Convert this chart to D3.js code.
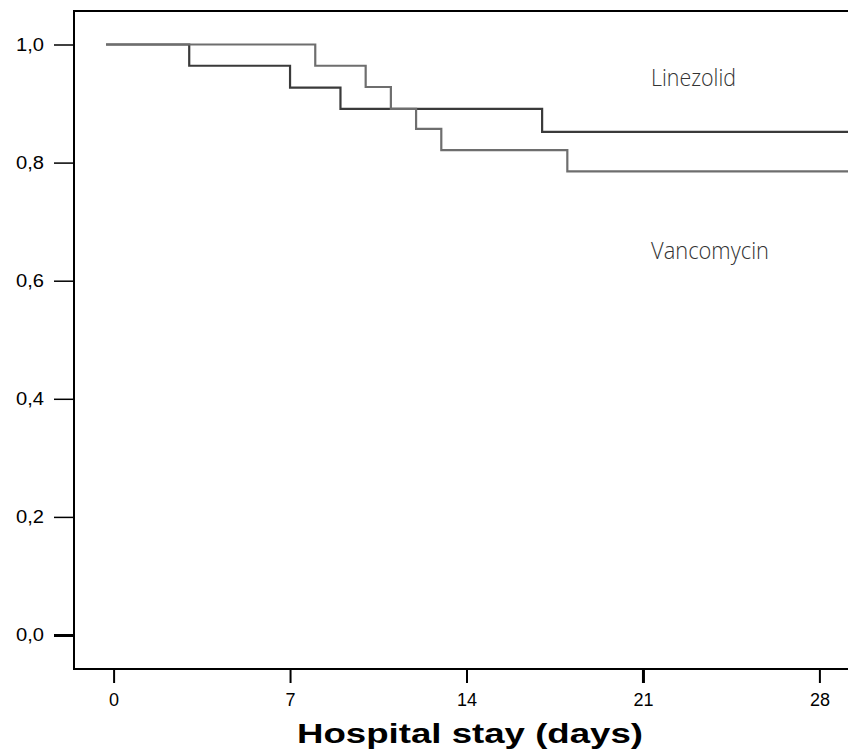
<!DOCTYPE html>
<html>
<head>
<meta charset="utf-8">
<script src="https://cdn.jsdelivr.net/npm/d3@7"></script>
<style>
  html, body { margin: 0; padding: 0; background: #fff; }
  svg { display: block; }
</style>
</head>
<body>
<svg id="chart" width="848" height="755"></svg>
<script>
// ---- data ----
const xTicks = [0, 7, 14, 21, 28];
const yTicks = [0.0, 0.2, 0.4, 0.6, 0.8, 1.0];
const linezolidTimes = [-0.3, 3, 7, 9, 17, 30];
const linezolidSurv  = [1.0, 0.964, 0.927, 0.891, 0.852, 0.852];
const vancomycinTimes = [-0.3, 8, 10, 11, 12, 13, 18, 30];
const vancomycinSurv  = [1.0, 0.964, 0.928, 0.891, 0.857, 0.821, 0.785, 0.785];
const seriesNames = ["Linezolid", "Vancomycin"];
const xTitle = "Hospital stay (days)";

(function () {
// ---- layout ----
const W = 848, H = 755;
const mLeft = 74, mTop = 11, mBottom = 669;
const svg = d3.select("#chart");

const x = d3.scaleLinear().domain([0, 28]).range([113.6, 819.4]);
const y = d3.scaleLinear().domain([0, 1]).range([635, 44.5]);

// frame lines (left, top, bottom)
const frame = svg.append("g").attr("stroke", "#000").attr("stroke-width", 2);
frame.append("line").attr("x1", mLeft).attr("x2", mLeft).attr("y1", mTop).attr("y2", mBottom + 1);
frame.append("line").attr("x1", mLeft - 1).attr("x2", W).attr("y1", mTop).attr("y2", mTop);
frame.append("line").attr("x1", mLeft - 1).attr("x2", W).attr("y1", mBottom).attr("y2", mBottom);

// y axis
const fmt = d => d3.format(".1f")(d).replace(".", ",");
const yAxis = d3.axisLeft(y).tickValues(yTicks).tickSize(20).tickPadding(10).tickFormat(fmt);
const gy = svg.append("g").attr("transform", `translate(${mLeft},0)`).call(yAxis);
gy.select(".domain").remove();
gy.selectAll(".tick line").attr("stroke", "#000").attr("stroke-width", d => d === 0 ? 3 : 1.5);
gy.selectAll(".tick text")
  .attr("font-family", "Liberation Sans, Arial, sans-serif")
  .attr("font-size", 18).attr("fill", "#000")
  .attr("textLength", 28).attr("lengthAdjust", "spacingAndGlyphs");

// x axis
const xAxis = d3.axisBottom(x).tickValues(xTicks).tickSize(14).tickPadding(10).tickFormat(d3.format("d"));
const gx = svg.append("g").attr("transform", `translate(0,${mBottom})`).call(xAxis);
gx.select(".domain").remove();
gx.selectAll(".tick line").attr("stroke", "#000").attr("stroke-width", d => d === 21 ? 3 : 2);
gx.selectAll(".tick text")
  .attr("font-family", "Liberation Sans, Arial, sans-serif")
  .attr("font-size", 18).attr("fill", "#000");

// curves
svg.append("clipPath").attr("id", "plotclip")
  .append("rect").attr("x", mLeft + 1).attr("y", mTop + 1).attr("width", W - mLeft).attr("height", mBottom - mTop - 2);

const line = d3.line().x(d => x(d[0])).y(d => y(d[1])).curve(d3.curveStepAfter);
const plot = svg.append("g").attr("clip-path", "url(#plotclip)");
plot.append("path")
  .datum(d3.zip(linezolidTimes, linezolidSurv))
  .attr("d", line).attr("fill", "none").attr("stroke", "#3a3a3a").attr("stroke-width", 2.2);
plot.append("path")
  .datum(d3.zip(vancomycinTimes, vancomycinSurv))
  .attr("d", line).attr("fill", "none").attr("stroke", "#6e6e6e").attr("stroke-width", 2.2);

// series labels
svg.append("text").attr("x", 651).attr("y", 86)
  .attr("font-family", "Open Sans, Noto Sans, sans-serif").attr("font-weight", 300)
  .attr("font-size", 23).attr("fill", "#333")
  .attr("textLength", 85).attr("lengthAdjust", "spacingAndGlyphs")
  .text(seriesNames[0]);
svg.append("text").attr("x", 651).attr("y", 259)
  .attr("font-family", "Open Sans, Noto Sans, sans-serif").attr("font-weight", 300)
  .attr("font-size", 23).attr("fill", "#333")
  .attr("textLength", 118).attr("lengthAdjust", "spacingAndGlyphs")
  .text(seriesNames[1]);

// x title
svg.append("text").attr("x", 470).attr("y", 743).attr("text-anchor", "middle")
  .attr("font-family", "Liberation Sans, Arial, sans-serif").attr("font-weight", "bold")
  .attr("font-size", 27).attr("fill", "#000")
  .attr("textLength", 346).attr("lengthAdjust", "spacingAndGlyphs")
  .text(xTitle);
})();
</script>
</body>
</html>
